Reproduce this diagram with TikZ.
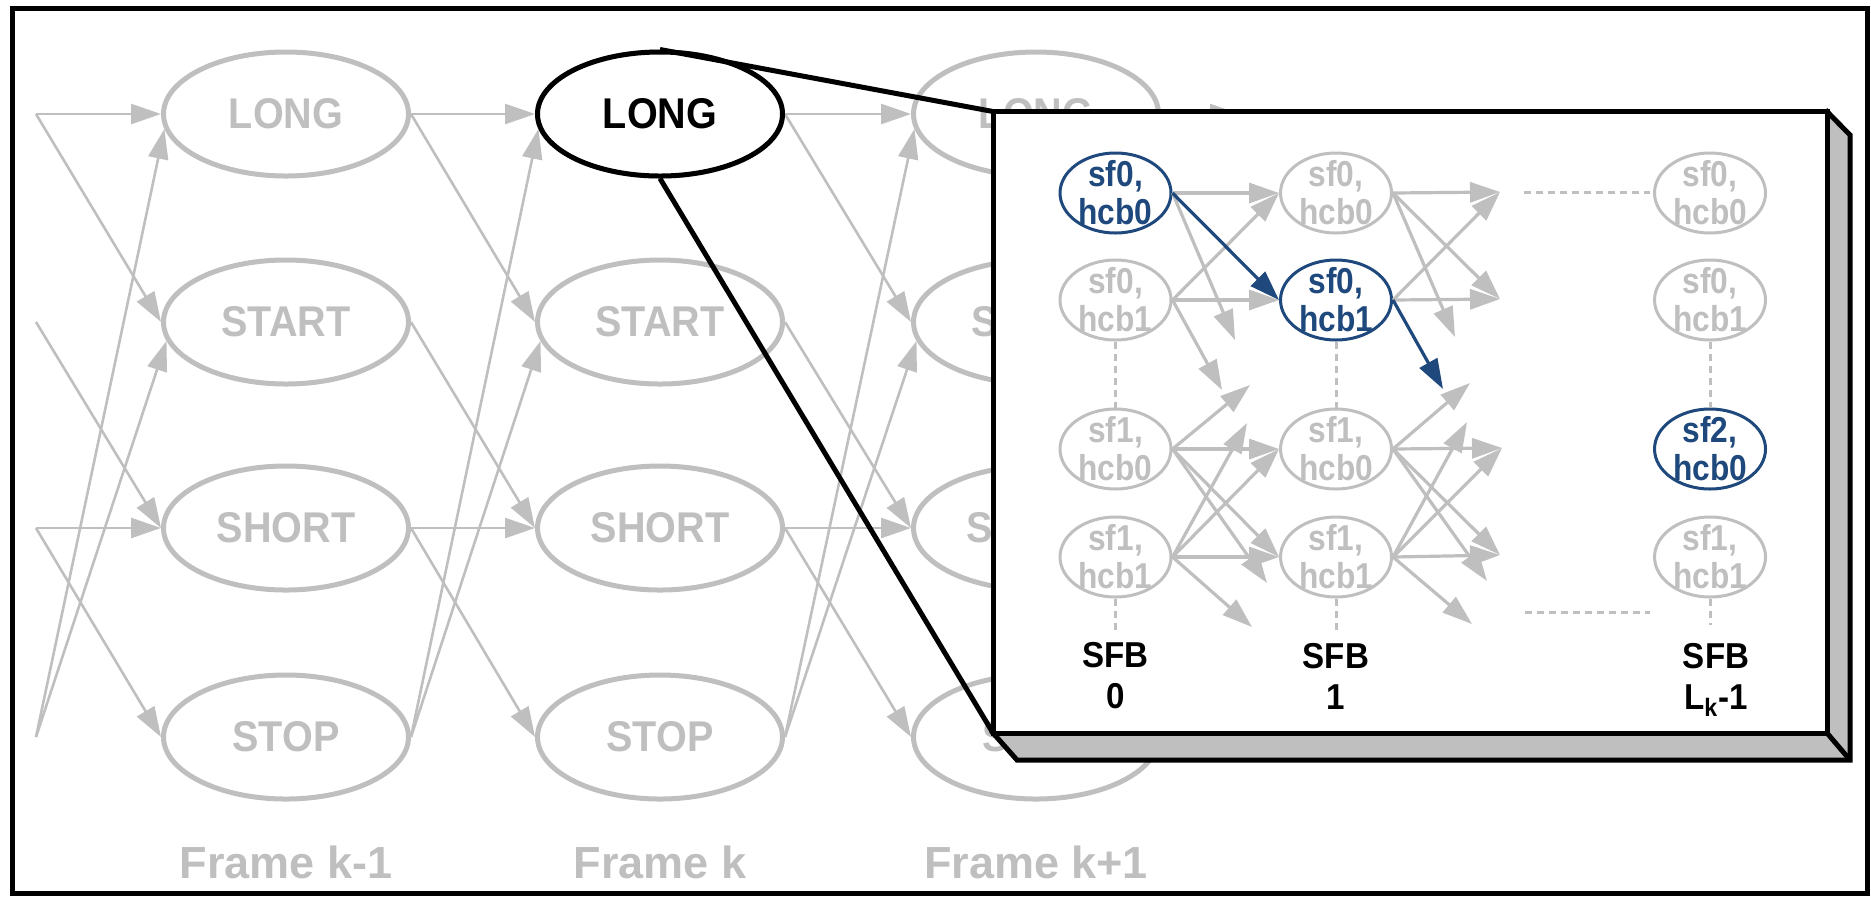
\documentclass[tikz,border=0pt]{standalone}
\usepackage{fontspec}
\setmainfont{Liberation Sans}
\newfontfamily\condsans[FakeStretch=0.92]{Liberation Sans}
\newfontfamily\narrowsans[FakeStretch=0.88]{Liberation Sans}
\usetikzlibrary{arrows.meta,shapes.geometric,calc}
\definecolor{lgray}{RGB}{191,191,191}
\definecolor{dblue}{RGB}{31,73,125}
\begin{document}
\begin{tikzpicture}[x=0.5pt,y=-0.5pt,
  garrow/.style={draw=lgray, line width=1.3pt, -{Triangle[length=15pt,width=10pt]}},
  winstate/.style={ellipse, draw=lgray, line width=2.5pt, fill=white,
    minimum width=122.5pt, minimum height=62pt, inner sep=0pt, text=lgray,
    font=\condsans\fontsize{21.5pt}{25pt}\selectfont\bfseries},
  framelab/.style={anchor=base, text=lgray, font=\fontsize{22.5pt}{27pt}\selectfont\bfseries},
  callout/.style={draw=black, line width=2.5pt},
  boxedge/.style={draw=black, line width=2.5pt},
  sfbstate/.style={ellipse, line width=1.5pt, fill=white, minimum width=55.5pt,
    minimum height=40pt, inner sep=-10pt, align=center,
    font=\narrowsans\fontsize{18pt}{19pt}\selectfont\bfseries},
  sfgray/.style={sfbstate, draw=lgray, text=lgray},
  sfblue/.style={sfbstate, draw=dblue, text=dblue},
  tarrow/.style={draw=lgray, line width=1.6pt, -{Triangle[length=15pt,width=10pt]}},
  barrow/.style={draw=dblue, line width=1.6pt, -{Triangle[length=15pt,width=10pt]}},
  dotsline/.style={draw=lgray, line width=1.5pt, dash pattern=on 3.5pt off 2.5pt},
  sfblab/.style={align=center, font=\condsans\fontsize{18pt}{20.5pt}\selectfont\bfseries}
]
\useasboundingbox (0,0) rectangle (1871,896);
\draw[line width=2.5pt] (12,8) rectangle (1867,893);

% window-sequence states of three consecutive frames
\foreach \i/\x in {1/286,2/660,3/1036}{
  \node[winstate] (long\i)  at (\x,114) {LONG};
  \node[winstate] (start\i) at (\x,322) {START};
  \node[winstate] (short\i) at (\x,528) {SHORT};
  \node[winstate] (stop\i)  at (\x,737) {STOP};
}
\node[framelab] (fr1) at (286,878)  {Frame k-1};
\node[framelab] (fr2) at (660,878)  {Frame k};
\node[framelab] (fr3) at (1036,878) {Frame k+1};

% transitions entering frame k-1
\coordinate (in0) at (36,114);
\coordinate (in1) at (36,322);
\coordinate (in2) at (36,528);
\coordinate (in3) at (36,737);
\draw[garrow] (in0) -- (long1.west);
\draw[garrow] (in0) -- (start1.west);
\draw[garrow] (in1) -- (short1.west);
\draw[garrow] (in2) -- (short1.west);
\draw[garrow] (in2) -- (stop1.west);
\draw[garrow] (in3) -- (long1.187);
\draw[garrow] (in3) -- (start1.189);

% transitions between frames
\foreach \a/\b in {1/2,2/3}{
  \draw[garrow] (long\a.east) -- (long\b.west);
  \draw[garrow] (long\a.east) -- (start\b.west);
  \draw[garrow] (start\a.east) -- (short\b.west);
  \draw[garrow] (short\a.east) -- (short\b.west);
  \draw[garrow] (short\a.east) -- (stop\b.west);
  \draw[garrow] (stop\a.east) -- (long\b.187);
  \draw[garrow] (stop\a.east) -- (start\b.189);
}
\coordinate (out0) at (1240,114);
\draw[garrow] (long3.east) -- (out0);

% the selected state of frame k
\node[winstate, draw=black, text=black] (long2) at (660,114) {LONG};

% magnified box
\coordinate (bxnw) at (993,111.5);
\coordinate (bxse) at (1827,733);
\draw[callout] (long2.north) -- (bxnw);
\draw[callout] (long2.south) -- (bxnw |- bxse);
\draw[boxedge, fill=lgray] (bxnw -| bxse) -- ($(bxnw -| bxse)+(23,23.5)$)
  -- ($(bxse)+(23,27)$) -- ($(bxnw |- bxse)+(24,27)$) -- (bxnw |- bxse) -- cycle;
\draw[boxedge] (bxse) -- ($(bxse)+(23,27)$);
\draw[boxedge, fill=white] (bxnw) rectangle (bxse);

% scalefactor / codebook states per band
\node[sfblue] (a1) at (1115.5,193) {sf0,\\hcb0};
\node[sfgray] (a2) at (1115.5,300) {sf0,\\hcb1};
\node[sfgray] (a3) at (1115.5,449) {sf1,\\hcb0};
\node[sfgray] (a4) at (1115.5,557) {sf1,\\hcb1};
\node[sfgray] (b1) at (1336,193) {sf0,\\hcb0};
\node[sfblue] (b2) at (1336,300) {sf0,\\hcb1};
\node[sfgray] (b3) at (1336,449) {sf1,\\hcb0};
\node[sfgray] (b4) at (1336,557) {sf1,\\hcb1};
\node[sfgray] (c1) at (1710,193) {sf0,\\hcb0};
\node[sfgray] (c2) at (1710,300) {sf0,\\hcb1};
\node[sfblue] (c3) at (1710,449) {sf2,\\hcb0};
\node[sfgray] (c4) at (1710,557) {sf1,\\hcb1};

\node[sfblab] (lab0) at (1115.5,676) {SFB\\0};
\node[sfblab] (lab1) at (1336,676) {SFB\\1};
\node[sfblab] (lab2) at (1716,680) {SFB\\L\textsubscript{k}-1};

% omitted states and bands
\coordinate (a4end) at (1115.5,632);
\coordinate (b4end) at (1336,632);
\coordinate (c4end) at (1710,625);
\draw[dotsline] (a2.south) -- (a3.north);
\draw[dotsline] (b2.south) -- (b3.north);
\draw[dotsline] (c2.south) -- (c3.north);
\draw[dotsline] (a4.south) -- (a4end);
\draw[dotsline] (b4.south) -- (b4end);
\draw[dotsline] (c4.south) -- (c4end);
\coordinate (dt0) at (1524,192);
\coordinate (dt1) at (1650,192);
\coordinate (db0) at (1525,612);
\coordinate (db1) at (1650,612);
\draw[dotsline] (dt0) -- (dt1);
\draw[dotsline] (db0) -- (db1);

% transitions SFB 0 -> SFB 1
\coordinate (a1x) at (1235,340);
\coordinate (a2x) at (1222,390);
\coordinate (a3u) at (1250,385);
\coordinate (a3d) at (1267,583);
\coordinate (a4u) at (1247,423);
\coordinate (a4d) at (1252,627);
\draw[tarrow] (a1.east) -- (b1.west);
\draw[tarrow] (a1.east) -- (a1x);
\draw[tarrow] (a2.east) -- (b1.west);
\draw[tarrow] (a2.east) -- (b2.west);
\draw[tarrow] (a2.east) -- (a2x);
\draw[tarrow] (a3.east) -- (a3u);
\draw[tarrow] (a3.east) -- (b3.west);
\draw[tarrow] (a3.east) -- (b4.west);
\draw[tarrow] (a3.east) -- (a3d);
\draw[tarrow] (a4.east) -- (a4u);
\draw[tarrow] (a4.east) -- (b3.west);
\draw[tarrow] (a4.east) -- (b4.west);
\draw[tarrow] (a4.east) -- (a4d);

% transitions SFB 1 -> SFB 2
\coordinate (n1) at (1500,192);
\coordinate (n2) at (1500,299);
\coordinate (n3) at (1502,448);
\coordinate (n4) at (1500,555);
\coordinate (b1x) at (1455,337);
\coordinate (b2x) at (1443,389);
\coordinate (b3u) at (1470,383);
\coordinate (b3d) at (1487,581);
\coordinate (b4u) at (1467,422);
\coordinate (b4d) at (1472,624);
\draw[tarrow] (b1.east) -- (n1);
\draw[tarrow] (b1.east) -- (n2);
\draw[tarrow] (b1.east) -- (b1x);
\draw[tarrow] (b2.east) -- (n1);
\draw[tarrow] (b2.east) -- (n2);
\draw[tarrow] (b3.east) -- (b3u);
\draw[tarrow] (b3.east) -- (n3);
\draw[tarrow] (b3.east) -- (n4);
\draw[tarrow] (b3.east) -- (b3d);
\draw[tarrow] (b4.east) -- (b4u);
\draw[tarrow] (b4.east) -- (n3);
\draw[tarrow] (b4.east) -- (n4);
\draw[tarrow] (b4.east) -- (b4d);

% chosen path
\draw[barrow] (a1.east) -- (b2.west);
\draw[barrow] (b2.east) -- (b2x);
\end{tikzpicture}
\end{document}
